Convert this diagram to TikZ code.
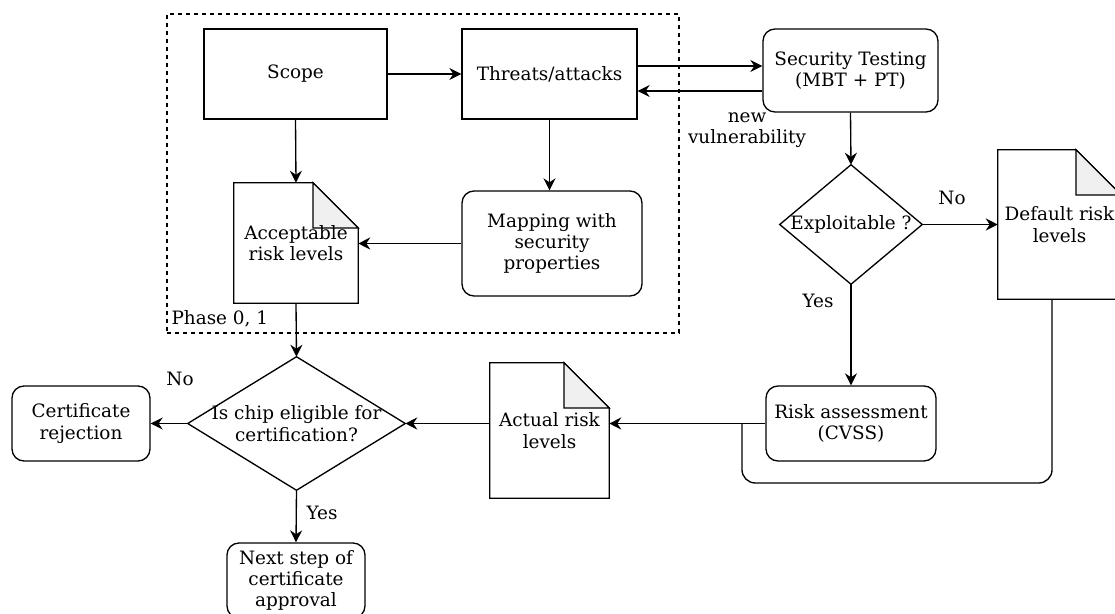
\documentclass[tikz,border=0pt]{standalone}
\usepackage{fontspec}
\setmainfont{DejaVu Serif}
\usetikzlibrary{arrows.meta, positioning, backgrounds}

\tikzset{
  line/.style={line width=1pt},
  arr/.style={line, -{Stealth[length=9pt,width=9pt,inset=3pt]}},
  box/.style={draw, line, inner sep=0pt, align=center},
  rbox/.style={box, rounded corners=9pt},
  doc/.style={inner sep=0pt, align=center},
  dec/.style={inner sep=0pt, align=center},
  lbl/.style={inner sep=1pt, align=center},
}

% outline of a note with folded corner, behind its text
\newcommand{\docfold}[1]{%
  \begin{scope}[on background layer]
    \draw[line] (#1.north west) -- ([xshift=-\foldsz]#1.north east) -- ([yshift=-\foldsz]#1.north east)
      -- (#1.south east) -- (#1.south west) -- cycle;
    \draw[line, fill=gray!12] ([xshift=-\foldsz]#1.north east) -- ([xshift=-\foldsz,yshift=-\foldsz]#1.north east)
      -- ([yshift=-\foldsz]#1.north east) -- cycle;
  \end{scope}}
% diamond outline round a decision node
\newcommand{\decoutline}[1]{%
  \draw[line] (#1.north) -- (#1.east) -- (#1.south) -- (#1.west) -- cycle;}

\begin{document}
\begin{tikzpicture}[x=0.75pt, y=-0.75pt, font=\fontsize{13.8}{16}\selectfont]
\clip (0,0) rectangle (1115,614);
\def\foldsz{34pt}

%% phase 0, 1
\node[draw, line width=0.9pt, dash pattern=on 3pt off 3pt, minimum width=384pt, minimum height=239.25pt] (phase) at (423,173.5) {};
\node[lbl, anchor=west] (phasetxt) at (170,319) {Phase 0, 1};

\node[box, minimum width=137.25pt, minimum height=67.5pt] (scope) at (295.5,74) {Scope};
\node[box, minimum width=131.25pt, minimum height=67.5pt] (threats) at (549.5,74) {Threats/attacks};
\node[rbox, minimum width=135pt, minimum height=78.75pt] (mapping) at (552,243.5) {Mapping with\\security\\properties};
\node[doc, minimum width=93pt, minimum height=90pt] (accept) at (296,243) {Acceptable\\risk levels};
\docfold{accept}

%% testing side
\node[rbox, minimum width=131.25pt, minimum height=62.25pt] (sectest) at (850.5,70.5) {Security Testing\\(MBT + PT)};
\node[dec, minimum width=106.5pt, minimum height=89.25pt] (exploit) at (851,224.5) {Exploitable ?};
\decoutline{exploit}
\node[doc, minimum width=92.25pt, minimum height=111.75pt] (default) at (1059.5,224.5) {Default risk\\levels};
\docfold{default}
\node[rbox, minimum width=127.5pt, minimum height=56.25pt] (riskass) at (851,423.5) {Risk assessment\\(CVSS)};
\node[doc, minimum width=89.25pt, minimum height=101.25pt] (actual) at (549.5,430.5) {Actual risk\\levels};
\docfold{actual}

%% decision
\node[dec, minimum width=162.75pt, minimum height=99.75pt] (chip) at (296.5,423.5) {Is chip eligible for\\certification?};
\decoutline{chip}
\node[rbox, minimum width=103.5pt, minimum height=56.25pt] (reject) at (81,423.5) {Certificate\\rejection};
\node[rbox, minimum width=103.5pt, minimum height=56.25pt] (next) at (296,580.5) {Next step of\\certificate\\approval};

%% labels
\node[lbl] (newvul) at (747,130) {new\\vulnerability};
\node[lbl] (no1) at (952,198) {No};
\node[lbl] (yes1) at (818,301) {Yes};
\node[lbl] (no2) at (180,379) {No};
\node[lbl] (yes2) at (322,513) {Yes};

%% connectors
\draw[arr] (scope) -- (threats);
\draw[arr] (scope.south) -- (accept.north);
\draw[arr] (threats.south) -- (threats.south |- mapping.north);
\draw[arr] (mapping.west) -- (mapping.west -| accept.east);
\draw[arr] ([yshift=6pt]threats.east) -- ([yshift=6pt]threats.east -| sectest.west);
\draw[arr] ([yshift=-12.75pt]threats.east -| sectest.west) -- ([yshift=-12.75pt]threats.east);
\draw[arr] (sectest.south) -- (exploit.north);
\draw[arr] (exploit.east) -- (exploit.east -| default.west);
\draw[arr] (exploit.south) -- (riskass.north);
\draw[arr] (riskass.west) -- (riskass.west -| actual.east);
\coordinate (loop) at (742,483);
\draw[line, rounded corners=10pt] ([xshift=-5.6pt]default.south) |- (loop) -- (loop |- riskass.west);
\draw[arr] (chip.east -| actual.west) -- (chip.east);
\draw[arr] (accept.south) -- (chip.north);
\draw[arr] (chip.west) -- (reject.east);
\draw[arr] (chip.south) -- (next.north);
\end{tikzpicture}
\end{document}
